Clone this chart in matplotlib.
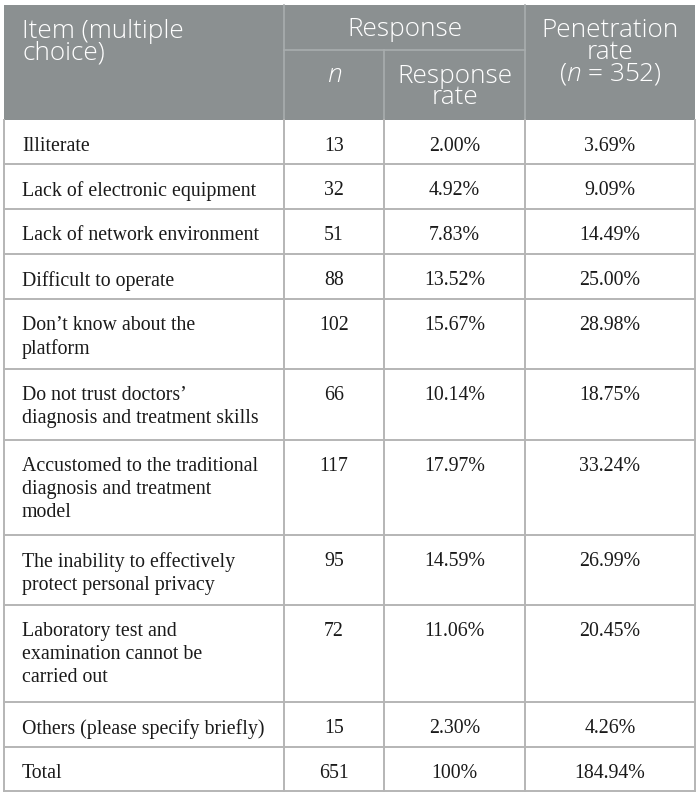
import matplotlib
matplotlib.use('Agg')
import matplotlib.pyplot as plt
from matplotlib.patches import Rectangle

# table content
items = ['Illiterate',
         'Lack of electronic equipment',
         'Lack of network environment',
         'Difficult to operate',
         'Don\u2019t know about the\nplatform',
         'Do not trust doctors\u2019\ndiagnosis and treatment skills',
         'Accustomed to the traditional\ndiagnosis and treatment\nmodel',
         'The inability to effectively\nprotect personal privacy',
         'Laboratory test and\nexamination cannot be\ncarried out',
         'Others (please specify briefly)',
         'Total']
n_values = ['13', '32', '51', '88', '102', '66', '117', '95', '72', '15', '651']
response_rate = ['2.00%', '4.92%', '7.83%', '13.52%', '15.67%', '10.14%',
                 '17.97%', '14.59%', '11.06%', '2.30%', '100%']
penetration_rate = ['3.69%', '9.09%', '14.49%', '25.00%', '28.98%', '18.75%',
                    '33.24%', '26.99%', '20.45%', '4.26%', '184.94%']

# layout in pixels
W, H = 700, 797
left, right, top = 4, 695, 5
col_x = [left, 284, 384, 525, right]
head_bot = 120
sub_y = 50
row_lines = [120, 164, 209, 254, 299, 369, 440, 535, 605, 702, 747, 791]

head_bg = '#8b9091'
head_line = '#a9adae'
grid = '#b5b5b5'
head_font = 'Open Sans'
body_font = 'Liberation Serif'

# italic n in the header in the same sans family
plt.rcParams['mathtext.fontset'] = 'custom'
plt.rcParams['mathtext.rm'] = 'Open Sans:light'
plt.rcParams['mathtext.it'] = 'Open Sans:italic:light'

fig = plt.figure(figsize=(W / 100, H / 100), dpi=100)
ax = fig.add_axes([0, 0, 1, 1])
ax.set_xlim(0, W)
ax.set_ylim(H, 0)
ax.axis('off')

# header block
ax.add_patch(Rectangle((left, top), right - left, head_bot - top,
                       facecolor=head_bg, edgecolor='none', zorder=1))
ax.plot([col_x[1], col_x[1]], [top, head_bot], color=head_line, lw=1.2, zorder=2)
ax.plot([col_x[3], col_x[3]], [top, head_bot], color=head_line, lw=1.2, zorder=2)
ax.plot([col_x[2], col_x[2]], [sub_y, head_bot], color=head_line, lw=1.2, zorder=2)
ax.plot([col_x[1], col_x[3]], [sub_y, sub_y], color=head_line, lw=1.2, zorder=2)

hs = 18.8
hkw = dict(color='white', fontsize=hs, family=head_font, fontweight='light',
           linespacing=0.82)
ax.text(22, 42, 'Item (multiple\nchoice)', ha='left', va='center', **hkw)
ax.text((col_x[1] + col_x[3]) / 2, 29, 'Response', ha='center', va='center', **hkw)
ax.text((col_x[1] + col_x[2]) / 2, 75, 'n', ha='center', va='center',
        fontstyle='italic', **hkw)
ax.text((col_x[2] + col_x[3]) / 2, 87, 'Response\nrate', ha='center', va='center',
        multialignment='center', **hkw)
ax.text((col_x[3] + col_x[4]) / 2, 52.5, 'Penetration\nrate\n($n$ = 352)',
        ha='center', va='center', multialignment='center', **hkw)

# body grid
for y in row_lines[1:]:
    ax.plot([left, right], [y, y], color=grid, lw=1.4, zorder=2)
for x in col_x:
    ax.plot([x, x], [head_bot, row_lines[-1]], color=grid, lw=1.4, zorder=2)

bs = 14.3
bkw = dict(color='#1a1a1a', fontsize=bs, family=body_font, va='top', linespacing=1.27)
for i in range(len(items)):
    y0 = row_lines[i] + 17
    ax.text(22, y0, items[i], ha='left', **bkw)
    ax.text((col_x[1] + col_x[2]) / 2, y0, n_values[i], ha='center', **bkw)
    ax.text((col_x[2] + col_x[3]) / 2, y0, response_rate[i], ha='center', **bkw)
    ax.text((col_x[3] + col_x[4]) / 2, y0, penetration_rate[i], ha='center', **bkw)

fig.savefig('out.png', dpi=100)
